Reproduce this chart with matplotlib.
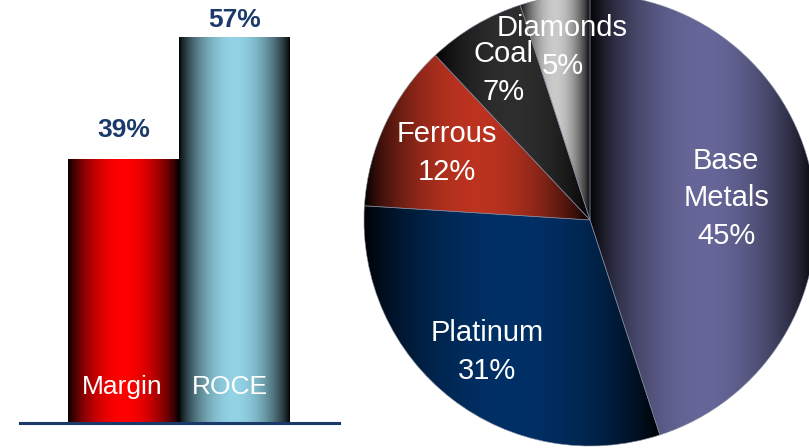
import numpy as np
import matplotlib
matplotlib.use("Agg")
import matplotlib.pyplot as plt
from matplotlib.colors import to_rgb

plt.rcParams['font.family'] = ['Liberation Sans', 'DejaVu Sans']

# ---- data ----
bar_categories = ["Margin", "ROCE"]
bar_values = [39, 57]
bar_value_labels = ["39%", "57%"]

pie_categories = ["Base\nMetals", "Platinum", "Ferrous", "Coal", "Diamonds"]
pie_values = [45, 31, 12, 7, 5]
pie_value_labels = ["45%", "31%", "12%", "7%", "5%"]

# ---- style ----
bar_colors = ["#FF0000", "#92D3E5"]
pie_colors = ["#666699", "#003066", "#BC3320", "#2E2E2E", "#CACACA"]
label_dist = [0.61, 0.74, 0.70, 0.755, 0.775]
value_label_offset = [4.2, 2.4]
navy = "#1B3A6B"

W, H = 809, 448
fig = plt.figure(figsize=(W / 100, H / 100), dpi=100)


def grad_image(color, n=256, p=0.75):
    t = np.linspace(0, 1, n)
    k = np.sin(np.pi * t) ** p
    c = np.array(to_rgb(color))
    img = k[:, None] * c[None, :]
    return img[None, :, :]


# ---- bar chart ----
px_per_unit = 6.78
base_y = 423
axb = fig.add_axes([0, (H - base_y) / H, 1, base_y / H])
x_left_px, x_right_px = 20, 339
c0, bw = 123.5, 110.7
axb.set_xlim((x_left_px - c0) / bw, (x_right_px - c0) / bw)
axb.set_ylim(0, base_y / px_per_unit)
axb.set_position([x_left_px / W, (H - base_y) / H, (x_right_px - x_left_px) / W, base_y / H])
xs = np.arange(len(bar_values))
bars = axb.bar(xs, bar_values, width=1.0, color="none", linewidth=0)
for b, col in zip(bars, bar_colors):
    x0, y0 = b.get_x(), b.get_y()
    im = axb.imshow(grad_image(col), extent=(x0, x0 + b.get_width(), y0, y0 + b.get_height()),
                    aspect="auto", interpolation="bilinear", zorder=1)
    im.set_clip_path(b)
for x, v, lab, off in zip(xs, bar_values, bar_value_labels, value_label_offset):
    axb.text(x, v + off, lab, ha="center", va="center", fontsize=19, fontweight="bold", color=navy)
for x, cat in zip(xs, bar_categories):
    axb.text(x - 0.01 if x == 0 else x - 0.04, 5.3, cat, ha="center", va="center", fontsize=19, color="white", zorder=3)
for s in ["top", "right", "left"]:
    axb.spines[s].set_visible(False)
axb.spines["bottom"].set_color(navy)
axb.spines["bottom"].set_linewidth(2.2)
axb.set_xticks([])
axb.set_yticks([])
axb.patch.set_alpha(0)

# ---- pie chart ----
cx, cy, r = 590, 220, 226
axp = fig.add_axes([(cx - r) / W, (H - cy - r) / H, 2 * r / W, 2 * r / H])
wedges, _ = axp.pie(pie_values, startangle=90, counterclock=False, radius=1,
                    wedgeprops=dict(linewidth=0.5, edgecolor="#7d8599"))
axp.set_xlim(-1, 1)
axp.set_ylim(-1, 1)
axp.set_aspect("auto")
axp.axis("off")
for w, col in zip(wedges, pie_colors):
    w.set_facecolor("none")
    w.set_alpha(0.8)
    w.set_zorder(3)
    ext = w.get_path().get_extents()
    im = axp.imshow(grad_image(col), extent=(ext.x0, ext.x1, ext.y0, ext.y1),
                    aspect="auto", interpolation="bilinear", zorder=1)
    im.set_clip_path(w)
for w, cat, vl, d in zip(wedges, pie_categories, pie_value_labels, label_dist):
    ang = np.deg2rad((w.theta1 + w.theta2) / 2)
    axp.text(d * np.cos(ang), d * np.sin(ang), cat + "\n" + vl, ha="center", va="center",
             fontsize=21, color="white", linespacing=1.45, zorder=5)
axp.set_xlim(-1, 1)
axp.set_ylim(-1, 1)

fig.savefig("out.png", dpi=100)
